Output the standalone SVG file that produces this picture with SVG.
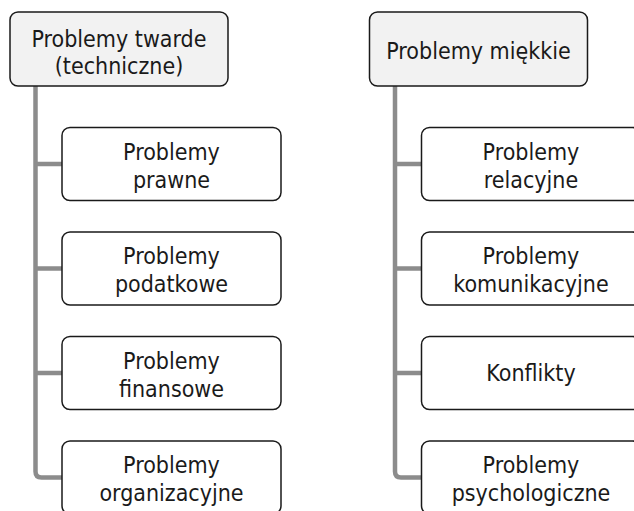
<svg xmlns="http://www.w3.org/2000/svg" width="634" height="511" viewBox="0 0 634 511">
  <style>
    .head rect { fill: #f2f2f2; stroke: #1a1a1a; stroke-width: 1.5; }
    .item rect { fill: #ffffff; stroke: #1a1a1a; stroke-width: 1.5; }
    text { font-family: "Liberation Sans Narrow", "DejaVu Sans Condensed", "Liberation Sans", sans-serif; font-size: 23px; fill: #1a1a1a; text-anchor: middle; }
    .links path { fill: none; stroke: #8c8c8c; stroke-width: 4.5; }
  </style>
  <rect width="634" height="511" fill="#ffffff"/>

  <!-- connectors -->
  <g class="links">
    <path d="M35.5 86 V471.5 Q35.5 477.5 41.5 477.5 H62"/>
    <path d="M35.5 164 H62 M35.5 268.5 H62 M35.5 373 H62"/>
    <path d="M395 86 V471.5 Q395 477.5 401 477.5 H421.5"/>
    <path d="M395 164 H421.5 M395 268.5 H421.5 M395 373 H421.5"/>
  </g>

  <!-- hard problems -->
  <g id="hard" class="head">
    <rect x="10" y="12" width="218" height="74" rx="8"/>
    <text x="119" y="47">Problemy twarde</text>
    <text x="119" y="74">(techniczne)</text>
  </g>
  <g id="legal" class="item">
    <rect x="62" y="127.5" width="219" height="73" rx="8"/>
    <text x="171.5" y="159.5">Problemy</text>
    <text x="171.5" y="187.5">prawne</text>
  </g>
  <g id="tax" class="item">
    <rect x="62" y="232" width="219" height="73" rx="8"/>
    <text x="171.5" y="264">Problemy</text>
    <text x="171.5" y="292">podatkowe</text>
  </g>
  <g id="finance" class="item">
    <rect x="62" y="336.5" width="219" height="73" rx="8"/>
    <text x="171.5" y="368.5">Problemy</text>
    <text x="171.5" y="396.5">finansowe</text>
  </g>
  <g id="organisation" class="item">
    <rect x="62" y="441" width="219" height="73" rx="8"/>
    <text x="171.5" y="473">Problemy</text>
    <text x="171.5" y="501">organizacyjne</text>
  </g>

  <!-- soft problems -->
  <g id="soft" class="head">
    <rect x="369.5" y="12" width="218" height="74" rx="8"/>
    <text x="478.5" y="59">Problemy miękkie</text>
  </g>
  <g id="relations" class="item">
    <rect x="421.5" y="127.5" width="219" height="73" rx="8"/>
    <text x="531" y="159.5">Problemy</text>
    <text x="531" y="187.5">relacyjne</text>
  </g>
  <g id="communication" class="item">
    <rect x="421.5" y="232" width="219" height="73" rx="8"/>
    <text x="531" y="264">Problemy</text>
    <text x="531" y="292">komunikacyjne</text>
  </g>
  <g id="conflicts" class="item">
    <rect x="421.5" y="336.5" width="219" height="73" rx="8"/>
    <text x="531" y="381">Konflikty</text>
  </g>
  <g id="psychology" class="item">
    <rect x="421.5" y="441" width="219" height="73" rx="8"/>
    <text x="531" y="473">Problemy</text>
    <text x="531" y="501">psychologiczne</text>
  </g>
</svg>
